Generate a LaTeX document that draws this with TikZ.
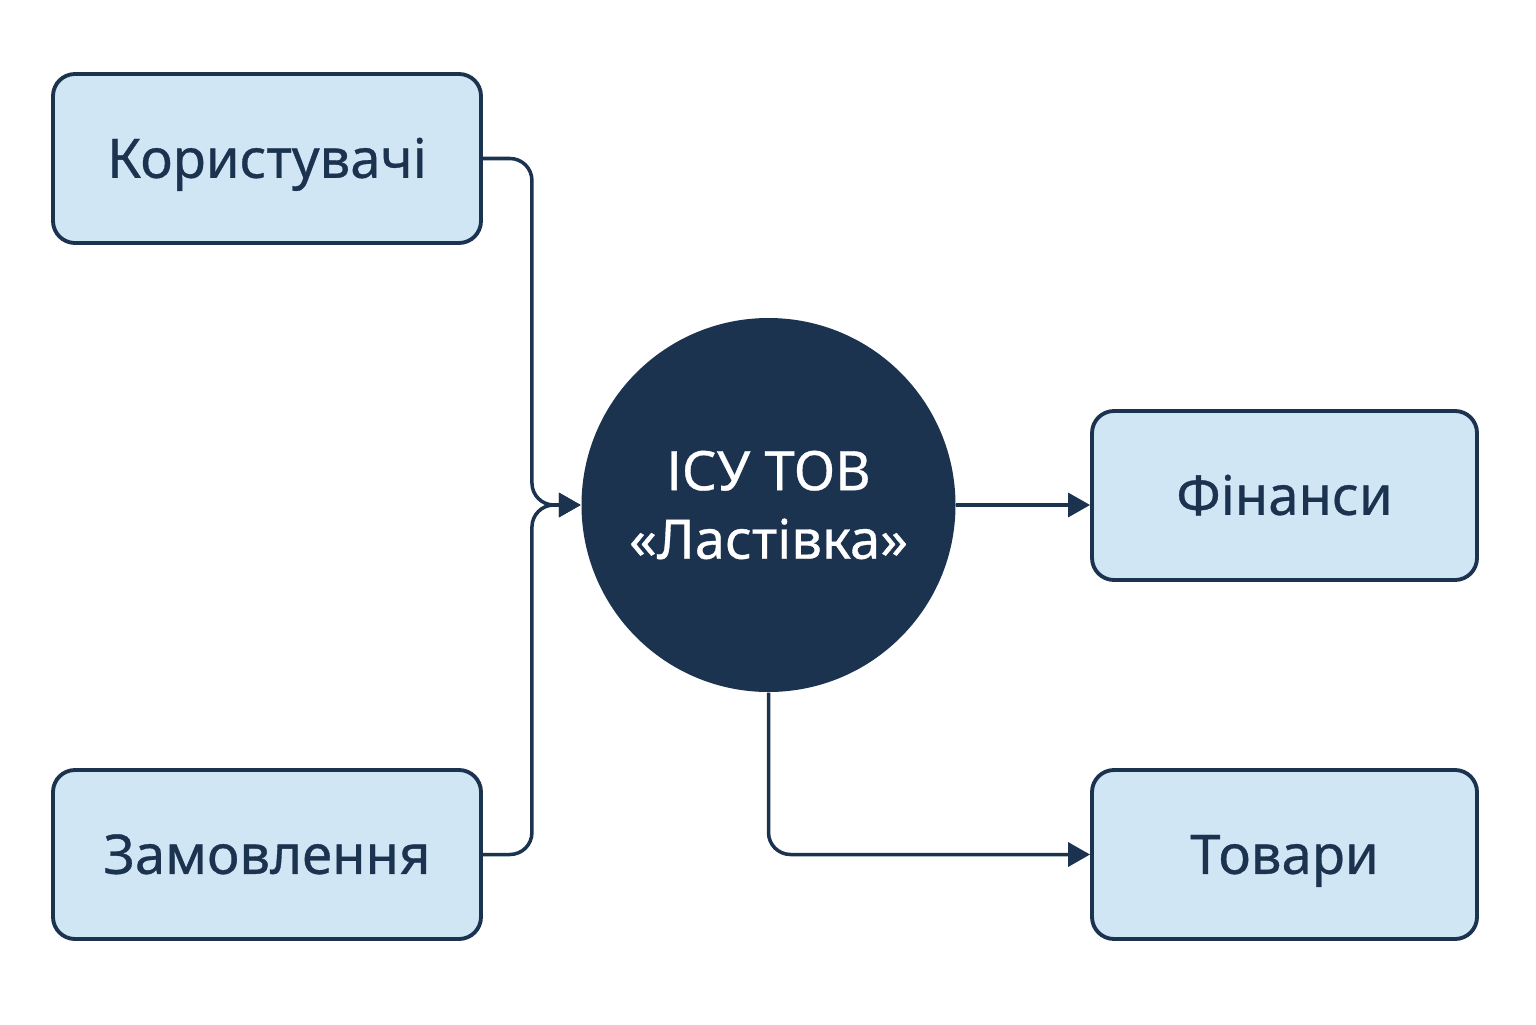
\documentclass[tikz,border=0pt]{standalone}
\usepackage{fontspec}
\setmainfont{Noto Sans}[FakeBold=0.6]
\usetikzlibrary{arrows.meta}

\definecolor{navy}{HTML}{1C3350}
\definecolor{paleblue}{HTML}{D0E6F5}

\begin{document}
\begin{tikzpicture}[
  font=\fontsize{15.5}{19.5}\selectfont\bfseries,
  block/.style={draw=navy,fill=paleblue,line width=1.1pt,rounded corners=0.22cm,
    minimum height=1.69cm,text=navy,text height=11pt,text depth=0pt},
  link/.style={draw=navy,line width=1pt,rounded corners=0.22cm,
    -{Triangle[length=0.22cm,width=0.24cm]}}
]
\useasboundingbox (0,0) rectangle (15.36,10.24);

% ---- the system in the middle ----
\node[circle,fill=navy,minimum size=3.74cm,text=white,align=center]
  (isu) at (7.685,5.19) {ІСУ ТОВ\\«Ластівка»};

% ---- inputs on the left ----
\node[block,minimum width=4.28cm] (users)  at (2.67,8.655) {Користувачі};
\node[block,minimum width=4.28cm] (orders) at (2.67,1.695) {Замовлення};

% ---- outputs on the right ----
\node[block,minimum width=3.85cm] (finance) at (12.845,5.285) {Фінанси};
\node[block,minimum width=3.85cm] (goods)   at (12.845,1.695) {Товари};

% ---- connectors ----
\draw[link] (users.east) -- ++(0.49,0) |- (isu.west);
\draw[link] (orders.east) -- ++(0.49,0) |- (isu.west);
\draw[link] (isu.east) -- (isu.east -| finance.west);
\draw[link] (isu.south) |- (goods.west);

\end{tikzpicture}
\end{document}
